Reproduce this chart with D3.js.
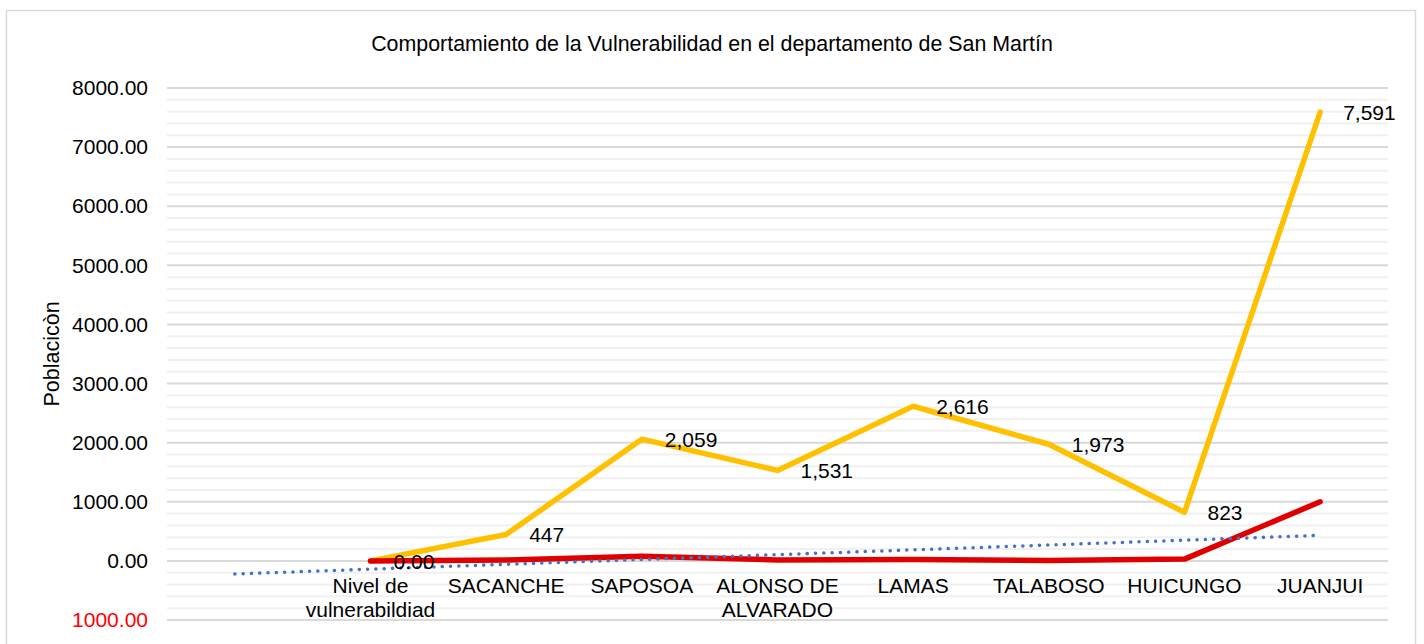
<!DOCTYPE html>
<html>
<head>
<meta charset="utf-8">
<script src="https://cdn.jsdelivr.net/npm/d3@7"></script>
<style>
  body { margin: 0; background: #fff; }
  svg { font-family: "Liberation Sans", Arial, sans-serif; }
</style>
</head>
<body>
<svg id="chart" width="1424" height="644"></svg>
<script>
// categories (first one is blank, Excel left an empty slot there)
var categories = ["", "Nivel de vulnerabildiad", "SACANCHE", "SAPOSOA", "ALONSO DE ALVARADO",
                  "LAMAS", "TALABOSO", "HUICUNGO", "JUANJUI"];
var categoryLines = [[""], ["Nivel de", "vulnerabildiad"], ["SACANCHE"], ["SAPOSOA"], ["ALONSO DE", "ALVARADO"],
                     ["LAMAS"], ["TALABOSO"], ["HUICUNGO"], ["JUANJUI"]];

var poblacion = [null, 0, 447, 2059, 1531, 2616, 1973, 823, 7591];
var poblacionLabels = [null, "0.00", "447", "2,059", "1,531", "2,616", "1,973", "823", "7,591"];
var vulnerable = [null, 0, 15, 80, 15, 25, 5, 30, 1000];

var yTicks = [-1000, 0, 1000, 2000, 3000, 4000, 5000, 6000, 7000, 8000];
var yMinor = d3.range(-1000, 8001, 200);

var svg = d3.select("#chart"),
    margin = {top: 88, left: 167, right: 36, bottom: 24},
    width = 1424 - margin.left - margin.right,
    height = 644 - margin.top - margin.bottom;

// chart border
svg.append("rect")
    .attr("x", 6.5).attr("y", 10.5)
    .attr("width", 1409).attr("height", 660)
    .attr("fill", "#fff").attr("stroke", "#d9d9d9").attr("stroke-width", 1.5);

svg.append("text")
    .attr("x", 712).attr("y", 51)
    .attr("text-anchor", "middle")
    .attr("font-size", 21.4)
    .attr("fill", "#000")
    .text("Comportamiento de la Vulnerabilidad en el departamento de San Martín");

svg.append("text")
    .attr("transform", "translate(59, 354) rotate(-90)")
    .attr("text-anchor", "middle")
    .attr("font-size", 21.5)
    .attr("fill", "#000")
    .text("Poblacicòn");

var x = d3.scaleBand()
    .domain(d3.range(categories.length))
    .range([0, width])
    .padding(0);

var y = d3.scaleLinear()
    .domain([-1000, 8000])
    .range([height, 0]);

var g = svg.append("g").attr("transform", "translate(" + margin.left + "," + margin.top + ")");

// minor gridlines
g.append("g").selectAll("line")
    .data(yMinor.filter(function (v) { return v % 1000 !== 0; }))
    .enter().append("line")
    .attr("x1", 0).attr("x2", width)
    .attr("y1", function (d) { return y(d); })
    .attr("y2", function (d) { return y(d); })
    .attr("stroke", "#f0f0f0").attr("stroke-width", 2);

// major gridlines
g.append("g").selectAll("line")
    .data(yTicks)
    .enter().append("line")
    .attr("x1", 0).attr("x2", width)
    .attr("y1", function (d) { return y(d); })
    .attr("y2", function (d) { return y(d); })
    .attr("stroke", "#d9d9d9").attr("stroke-width", 2);

// y axis labels
var yAxis = g.append("g")
    .call(d3.axisLeft(y).tickValues(yTicks).tickSize(0).tickPadding(19)
        .tickFormat(function (d) { return Math.abs(d).toFixed(2); }));
yAxis.select(".domain").remove();
yAxis.selectAll("text")
    .attr("font-size", 21)
    .attr("font-family", "Liberation Sans, Arial, sans-serif")
    .attr("fill", function (d) { return d < 0 ? "#ff0000" : "#000"; });

// category labels
var cx = function (i) { return x(i) + x.bandwidth() / 2; };
var xl = g.append("g").selectAll("text")
    .data(categoryLines)
    .enter().append("text")
    .attr("text-anchor", "middle")
    .attr("font-size", 21)
    .attr("fill", "#000")
    .attr("x", function (d, i) { return cx(i); })
    .attr("y", y(0) + 32);
xl.selectAll("tspan")
    .data(function (d) { return d; })
    .enter().append("tspan")
    .attr("x", function () { return d3.select(this.parentNode).attr("x"); })
    .attr("dy", function (d, i) { return i === 0 ? 0 : 24; })
    .text(function (d) { return d; });

var line = d3.line()
    .defined(function (d) { return d.v !== null; })
    .x(function (d) { return cx(d.i); })
    .y(function (d) { return y(d.v); });

function pts(arr) { return arr.map(function (v, i) { return {i: i, v: v}; }); }

g.append("path")
    .datum(pts(poblacion))
    .attr("d", line)
    .attr("fill", "none").attr("stroke", "#ffc000").attr("stroke-width", 5.5)
    .attr("stroke-linejoin", "round").attr("stroke-linecap", "round");

g.append("path")
    .datum(pts(vulnerable))
    .attr("d", line)
    .attr("fill", "none").attr("stroke", "#e00000").attr("stroke-width", 5.5)
    .attr("stroke-linejoin", "round").attr("stroke-linecap", "round");

// linear trendline of the red series (Excel x = 1..n)
var tp = pts(vulnerable).filter(function (d) { return d.v !== null; });
var mx = d3.mean(tp, function (d) { return d.i; }),
    my = d3.mean(tp, function (d) { return d.v; });
var slope = d3.sum(tp, function (d) { return (d.i - mx) * (d.v - my); }) /
            d3.sum(tp, function (d) { return (d.i - mx) * (d.i - mx); });
var trend = [0, categories.length - 1].map(function (i) { return {i: i, v: my + slope * (i - mx)}; });

g.append("path")
    .datum(trend)
    .attr("d", line)
    .attr("fill", "none").attr("stroke", "#4472c4").attr("stroke-width", 3.5)
    .attr("stroke-dasharray", "0.1 8.2").attr("stroke-linecap", "round");

// data labels
g.append("g").selectAll("text")
    .data(pts(poblacion).filter(function (d) { return d.v !== null; }))
    .enter().append("text")
    .attr("x", function (d) { return cx(d.i) + 23; })
    .attr("y", function (d) { return y(d.v) + 8; })
    .attr("font-size", 21)
    .attr("fill", "#000")
    .text(function (d) { return poblacionLabels[d.i]; });
</script>
</body>
</html>
